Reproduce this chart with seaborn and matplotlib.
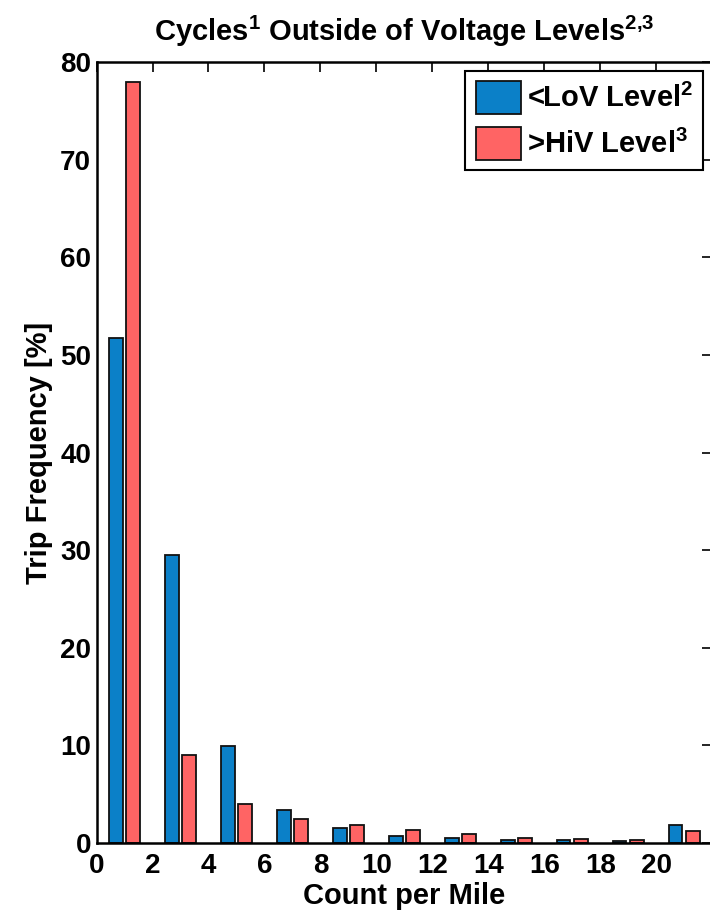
import numpy as np
import pandas as pd
import matplotlib
matplotlib.use("Agg")
import matplotlib.pyplot as plt
import seaborn as sns

# bin centers (count per mile)
bins = [1, 3, 5, 7, 9, 11, 13, 15, 17, 19, 21]
low_v = [51.8, 29.5, 9.9, 3.4, 1.5, 0.75, 0.5, 0.3, 0.3, 0.2, 1.8]
high_v = [78.0, 9.0, 4.0, 2.5, 1.8, 1.3, 0.9, 0.5, 0.4, 0.3, 1.2]
series = ["<LoV Level$^\\mathbf{2}$", ">HiV Level$^\\mathbf{3}$"]
colors = ["#0B80C8", "#FF6464"]

df = pd.DataFrame({
    "Count": bins * 2,
    "Freq": low_v + high_v,
    "Series": [series[0]] * len(bins) + [series[1]] * len(bins),
})

sns.set_style("white")
plt.rcParams["font.family"] = ["Liberation Sans", "DejaVu Sans"]
plt.rcParams["font.weight"] = "bold"
plt.rcParams["mathtext.fontset"] = "custom"
plt.rcParams["mathtext.rm"] = "Liberation Sans:bold"
plt.rcParams["mathtext.bf"] = "Liberation Sans:bold"
for k in ["text.color", "axes.labelcolor", "xtick.color", "ytick.color"]:
    plt.rcParams[k] = "black"

fig = plt.figure(figsize=(7.1, 9.11), dpi=100)
# right edge of the axes falls just outside the image, like the original
ax = fig.add_axes([0.136, 0.0746, 0.867, 0.857])

sns.barplot(data=df, x="Count", y="Freq", hue="Series", native_scale=True,
            palette=colors, saturation=1, width=0.62, gap=0.2,
            edgecolor="#111111", linewidth=1.3, ax=ax, errorbar=None)

ax.set_xlim(0, 22)
ax.set_ylim(0, 80)
ax.set_xticks(range(0, 21, 2))
ax.set_yticks(range(0, 81, 10))
ax.tick_params(direction="in", length=7, width=1.2, top=True, right=True,
               labelsize=20)
ax.tick_params(axis="y", pad=4)
ax.tick_params(axis="x", pad=7)
for lab in ax.get_xticklabels() + ax.get_yticklabels():
    lab.set_fontweight("bold")
for sp in ax.spines.values():
    sp.set_visible(True)
    sp.set_color("black")
    sp.set_linewidth(1.8)

ax.set_xlabel("Count per Mile", fontsize=21, fontweight="bold", labelpad=2)
ax.set_ylabel("Trip Frequency [%]", fontsize=21, fontweight="bold", labelpad=5)
ax.set_title("Cycles$^\\mathbf{1}$ Outside of Voltage Levels$^\\mathbf{2{,}3}$",
             fontsize=21, fontweight="bold", pad=15)

leg = ax.legend(loc="upper right", fontsize=21, frameon=True, fancybox=False,
                edgecolor="black", handlelength=1.56, handleheight=1.35,
                handletextpad=0.2, borderpad=0.35, labelspacing=0.45,
                borderaxespad=0.3, framealpha=1)
leg.get_frame().set_linewidth(1.5)
for t in leg.get_texts():
    t.set_fontweight("bold")

fig.savefig("out.png", dpi=100)
